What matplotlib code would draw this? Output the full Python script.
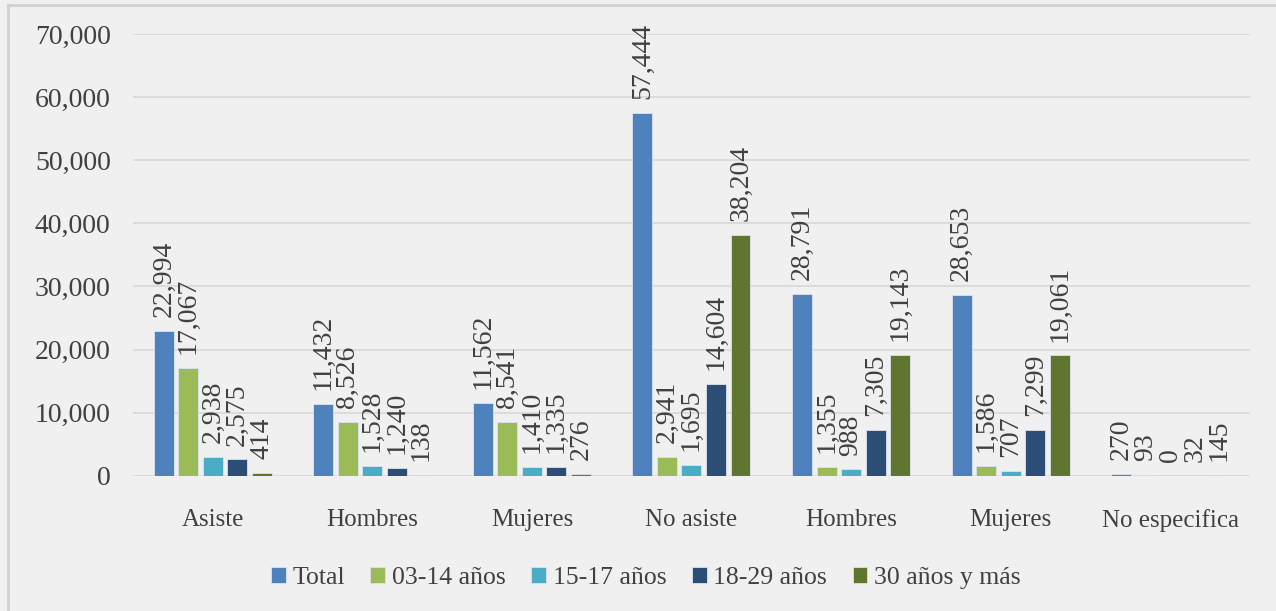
import numpy as np
import matplotlib.pyplot as plt
from matplotlib.patches import Rectangle

categorias = ["Asiste", "Hombres", "Mujeres", "No asiste", "Hombres", "Mujeres", "No especifica"]
series = ["Total", "03-14 años", "15-17 años", "18-29 años", "30 años y más"]

total = [22994, 11432, 11562, 57444, 28791, 28653, 270]
edad_03_14 = [17067, 8526, 8541, 2941, 1355, 1586, 93]
edad_15_17 = [2938, 1528, 1410, 1695, 988, 707, 0]
edad_18_29 = [2575, 1240, 1335, 14604, 7305, 7299, 32]
edad_30_mas = [414, 138, 276, 38204, 19143, 19061, 145]

colores = ["#4f81bd", "#9bbb59", "#4bacc6", "#2c4d75", "#5f7530"]
datos = [total, edad_03_14, edad_15_17, edad_18_29, edad_30_mas]

FONDO = "#f0f0f0"
TEXTO = "#404040"
plt.rcParams["font.family"] = ["Liberation Serif", "DejaVu Serif"]
plt.rcParams["font.size"] = 18.5

fig = plt.figure(figsize=(12.76, 6.11), dpi=100, facecolor=FONDO)
ax = fig.add_axes([0.1042, 0.2214, 0.8754, 0.723])
ax.set_facecolor(FONDO)

# borde del grafico (solo arriba e izquierda se ven)
fig.patches.append(Rectangle((8 / 1276, -0.05), 1.5, 1.05 - 5 / 611, transform=fig.transFigure,
                             fill=False, edgecolor="#d0d0d0", linewidth=2, zorder=0))

x = np.arange(len(categorias))
paso = 0.1536
ancho = 0.125
for i, (vals, col, nombre) in enumerate(zip(datos, colores, series)):
    pos = x + (i - 2) * paso
    ax.bar(pos, vals, width=ancho, color=col, edgecolor="#dbe3ee",
           linewidth=0.6, label=nombre, zorder=3)
    for p, v in zip(pos, vals):
        ax.annotate(f"{v:,}", (p, v), xytext=(0, 10), textcoords="offset points",
                    rotation=90, ha="center", va="bottom", color=TEXTO, fontsize=20)

ax.set_xlim(-0.5, len(categorias) - 0.5)
ax.set_ylim(0, 70000)
ax.set_yticks(np.arange(0, 70001, 10000))
ax.set_yticklabels([f"{t:,}" for t in range(0, 70001, 10000)], fontsize=20)
ax.set_xticks(x)
ax.set_xticklabels(categorias, fontsize=18)
ax.tick_params(axis="both", length=0, colors=TEXTO)
ax.tick_params(axis="y", pad=16)
ax.tick_params(axis="x", pad=24)
ax.grid(axis="y", color="#d9d9d9", linewidth=1.3, zorder=0)
for s in ax.spines.values():
    s.set_visible(False)

fig.legend(loc="center", bbox_to_anchor=(0.506, 0.054), ncol=5, frameon=False,
           handlelength=0.58, handleheight=0.58, handletextpad=0.25, columnspacing=1.0,
           labelcolor=TEXTO)

fig.savefig("out.png", dpi=100, facecolor=FONDO)
